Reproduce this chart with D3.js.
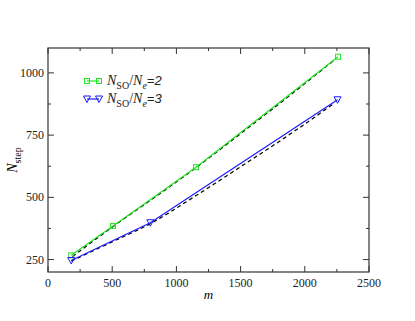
<!DOCTYPE html>
<html>
<head>
<meta charset="utf-8">
<script src="https://cdn.jsdelivr.net/npm/d3@7"></script>
<style>
  body { margin: 0; background: #fff; }
  text { font-family: "Liberation Serif", "DejaVu Serif", serif; }
</style>
</head>
<body>
<div id="chart"></div>
<script>
// data
const m2 = [181, 506, 1153, 2259];
const nstep2 = [267, 385, 621, 1065];
const m3 = [181, 797, 2255];
const nstep3 = [246, 398, 892];
// dashed fit curves
const fitM2 = [190, 500, 800, 1150, 1500, 1900, 2240];
const fitN2 = [262, 380, 489, 618, 756, 916, 1056];
const fitM3 = [180, 500, 800, 1150, 1500, 1900, 2230];
const fitN3 = [244, 321, 395, 506, 623, 759, 878];
const xTicks = [0, 500, 1000, 1500, 2000, 2500];
const yTicks = [250, 500, 750, 1000];

const W = 415, H = 321;
const margin = {top: 48, right: 46, bottom: 49, left: 48};
const width = W - margin.left - margin.right,
      height = H - margin.top - margin.bottom;

const svg = d3.select("#chart").append("svg")
    .attr("width", W).attr("height", H);
const g = svg.append("g").attr("transform", `translate(${margin.left},${margin.top})`);

const x = d3.scaleLinear().domain([0, 2500]).range([0, width]);
const y = d3.scaleLinear().domain([200, 1100]).range([height, 0]);

const green = "#22e622", blue = "#1a1aff", frame = "#333";

// ticks inward on all four sides
const xMinor = d3.range(250, 2500, 500);
const yMinor = d3.range(375, 1100, 250);
const tk = g.append("g").attr("stroke", frame).attr("stroke-width", 1);
xTicks.concat(xMinor).forEach(v => {
  const len = xTicks.includes(v) ? 6 : 3;
  tk.append("line").attr("x1", x(v)).attr("x2", x(v)).attr("y1", height).attr("y2", height - len);
  tk.append("line").attr("x1", x(v)).attr("x2", x(v)).attr("y1", 0).attr("y2", len);
});
yTicks.concat(yMinor).forEach(v => {
  const len = yTicks.includes(v) ? 6 : 3;
  tk.append("line").attr("y1", y(v)).attr("y2", y(v)).attr("x1", 0).attr("x2", len);
  tk.append("line").attr("y1", y(v)).attr("y2", y(v)).attr("x1", width).attr("x2", width - len);
});

g.append("rect").attr("width", width).attr("height", height)
  .attr("fill", "none").attr("stroke", frame).attr("stroke-width", 1.2);

g.selectAll(".xl").data(xTicks).enter().append("text")
  .attr("x", d => x(d)).attr("y", height + 15)
  .attr("text-anchor", "middle").style("font-size", "12px").attr("fill", "#222")
  .text(d => d);
g.selectAll(".yl").data(yTicks).enter().append("text")
  .attr("x", -4).attr("y", d => y(d) + 4)
  .attr("text-anchor", "end").style("font-size", "12px").attr("fill", "#222")
  .text(d => d);

// axis titles
g.append("text").attr("x", x(1250)).attr("y", height + 27)
  .attr("text-anchor", "middle").style("font-size", "13px").style("font-style", "italic")
  .text("m");
const yt = svg.append("text")
  .attr("transform", `translate(17,${margin.top + height / 2}) rotate(-90)`)
  .attr("text-anchor", "middle").style("font-size", "14px");
yt.append("tspan").style("font-style", "italic").text("N");
yt.append("tspan").attr("dy", 4).style("font-size", "10px").text("step");

const line = d3.line().x(d => x(d[0])).y(d => y(d[1]));

// fits
[[fitM2, fitN2], [fitM3, fitN3]].forEach(([ms, ns]) => {
  g.append("path").datum(d3.zip(ms, ns))
    .attr("d", line.curve(d3.curveMonotoneX))
    .attr("fill", "none").attr("stroke", "#000")
    .attr("stroke-width", 1.2).attr("stroke-dasharray", "4,3");
});
line.curve(d3.curveLinear);

const sq = 5;
const tri = (cx, cy) => `M${cx - 3.5},${cy - 3} L${cx + 3.5},${cy - 3} L${cx},${cy + 3.5} Z`;

function drawSeries(ms, ns, color, shape) {
  const pts = d3.zip(ms, ns);
  g.append("path").datum(pts).attr("d", line)
    .attr("fill", "none").attr("stroke", color).attr("stroke-width", 1.2);
  pts.forEach(p => drawMarker(x(p[0]), y(p[1]), color, shape));
}
function drawMarker(cx, cy, color, shape) {
  if (shape === "sq") {
    g.append("rect").attr("x", cx - sq / 2).attr("y", cy - sq / 2)
      .attr("width", sq).attr("height", sq)
      .attr("fill", "none").attr("stroke", color).attr("stroke-width", 1);
  } else {
    g.append("path").attr("d", tri(cx, cy))
      .attr("fill", "none").attr("stroke", color).attr("stroke-width", 1);
  }
}
drawSeries(m2, nstep2, green, "sq");
drawSeries(m3, nstep3, blue, "tri");

// legend
const legend = [
  {label: "2", color: green, shape: "sq"},
  {label: "3", color: blue, shape: "tri"}
];
legend.forEach((d, i) => {
  const ly = 81 - margin.top + i * 18;
  const lx0 = 87 - margin.left, lx1 = 99 - margin.left;
  g.append("line").attr("x1", lx0).attr("x2", lx1).attr("y1", ly).attr("y2", ly)
    .attr("stroke", d.color).attr("stroke-width", 1.2);
  drawMarker(lx0, ly, d.color, d.shape);
  drawMarker(lx1, ly, d.color, d.shape);
  const t = g.append("text").attr("x", 107 - margin.left).attr("y", ly + 4)
    .style("font-size", "14px").attr("fill", "#222");
  t.append("tspan").style("font-style", "italic").text("N");
  t.append("tspan").attr("dy", 4).style("font-size", "10px").text("SO");
  t.append("tspan").attr("dy", -4).text("/");
  t.append("tspan").style("font-style", "italic").text("N");
  t.append("tspan").attr("dy", 4).style("font-size", "10px").style("font-style", "italic").text("e");
  t.append("tspan").attr("dy", -4).style("font-style", "italic")
    .style("font-family", "'Liberation Sans', sans-serif").style("font-size", "13px")
    .text("=" + d.label);
});
</script>
</body>
</html>
